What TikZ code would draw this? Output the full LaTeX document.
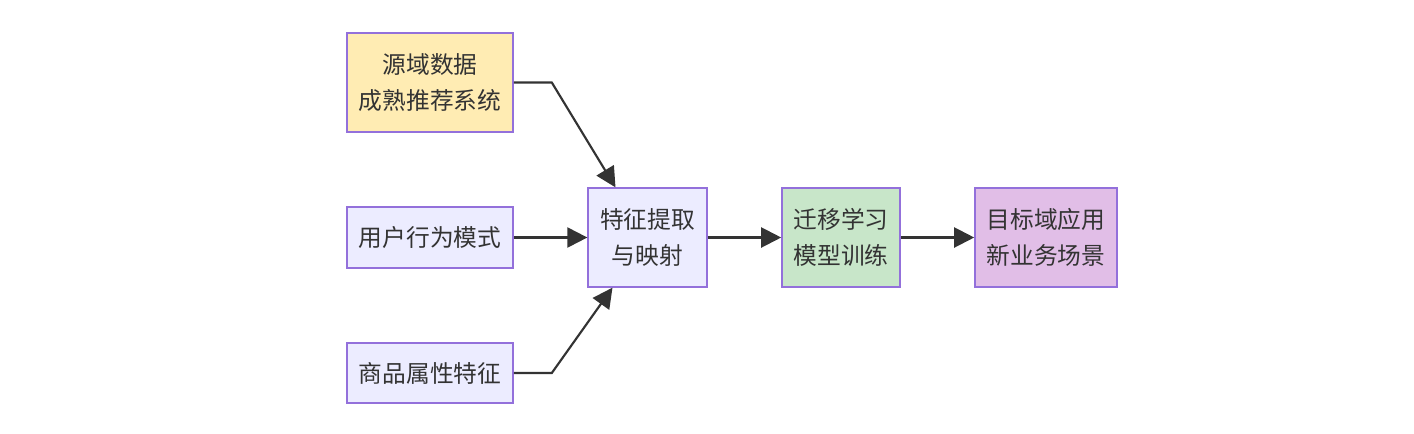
\documentclass[tikz,border=0pt]{standalone}
\usepackage{fontspec}
\setmainfont{Noto Sans CJK SC}
\usetikzlibrary{arrows.meta,calc}
\definecolor{boxline}{HTML}{9370DB}
\definecolor{boxfill}{HTML}{ECECFF}
\definecolor{srcfill}{HTML}{FFECB3}
\definecolor{trainfill}{HTML}{C8E6C9}
\definecolor{targetfill}{HTML}{E1BEE7}
\definecolor{edgeline}{HTML}{333333}
\definecolor{textcol}{HTML}{333333}
\tikzset{
    stage/.style={draw=boxline,fill=boxfill,line width=1.2pt,align=center,
        inner sep=0pt,font=\fontsize{17.8}{27}\selectfont,text=textcol},
    flow/.style={draw=edgeline,line width=1.6pt,
        -{Triangle[length=15pt,width=15pt]}}
}
\begin{document}
\begin{tikzpicture}[x=0.75pt,y=-0.75pt]
        \useasboundingbox (0,0) rectangle (1414,433);
        \node[stage,fill=srcfill,minimum width=124.5pt,minimum height=74pt] (src) at (430,82.5) {源域数据\\成熟推荐系统};
        \node[stage,minimum width=124.5pt,minimum height=45.5pt] (user) at (430,237.5) {用户行为模式};
        \node[stage,minimum width=124.5pt,minimum height=45pt] (item) at (430,373) {商品属性特征};
        \node[stage,minimum width=89pt,minimum height=74pt] (feat) at (647.5,237.5) {特征提取\\与映射};
        \node[stage,fill=trainfill,minimum width=88.5pt,minimum height=74pt] (train) at (841,237.5) {迁移学习\\模型训练};
        \node[stage,fill=targetfill,minimum width=106.5pt,minimum height=74pt] (target) at (1046,237.5) {目标域应用\\新业务场景};
        \coordinate (featin1) at ($(feat.north)+(-32,0)$);
        \coordinate (featin3) at ($(feat.south)+(-35,0)$);
        \draw[flow] (src.east) -- ++(38,0) -- (featin1);
        \draw[flow] (user) -- (feat);
        \draw[flow] (item.east) -- ++(38,0) -- (featin3);
        \draw[flow] (feat) -- (train);
        \draw[flow] (train) -- (target);
    \end{tikzpicture}
\end{document}
